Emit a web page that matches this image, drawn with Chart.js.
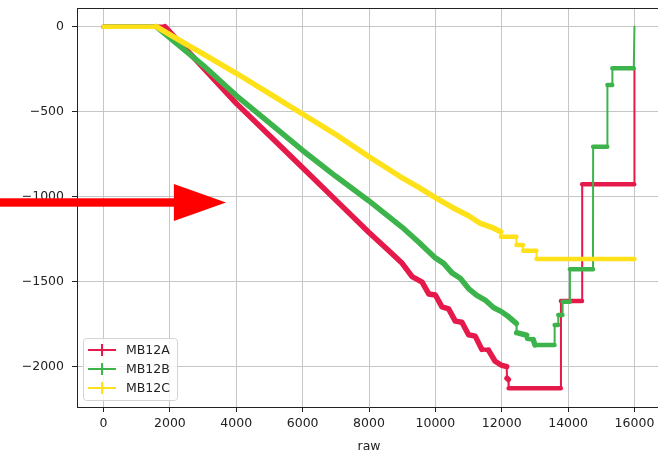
<!DOCTYPE html>
<html>
<head>
<meta charset="utf-8">
<script src="https://cdn.jsdelivr.net/npm/chart.js@4.4.1/dist/chart.umd.min.js"></script>
<style>
  html, body { margin: 0; padding: 0; background: #fff; overflow: hidden; }
  #wrap { width: 664px; height: 452px; }
</style>
</head>
<body>
<div id="wrap"><canvas id="chart"></canvas></div>
<script>
const X_TICKS = [0, 2000, 4000, 6000, 8000, 10000, 12000, 14000, 16000];
const Y_TICKS = [0, -500, -1000, -1500, -2000];

const MB12A_X = [0, 1000, 1850, 2500, 3000, 4000, 5000, 6000, 7000, 8000, 8500, 9000, 9300, 9600, 9800, 10000,
  10200, 10400, 10600, 10800, 11000, 11200, 11400, 11600, 11800, 11980, 12150, 12160, 12200, 12210,
  13780, 13785, 14420, 14425, 15990, 16000];
const MB12A_Y = [0, 0, 0, -137, -240, -451, -640, -830, -1020, -1210, -1300, -1392, -1470, -1502, -1572, -1578,
  -1648, -1660, -1732, -1738, -1812, -1820, -1898, -1902, -1968, -1990, -2000, -2068, -2075, -2127,
  -2127, -1614, -1614, -927, -927, -245];

const MB12B_X = [0, 1000, 1590, 2500, 3000, 4000, 5000, 6000, 7000, 8000, 9000, 9500, 10000, 10250, 10500,
  10750, 11000, 11250, 11500, 11750, 11990, 12200, 12440, 12450, 12750, 12760, 12950, 13000, 13590, 13595,
  13700, 13705, 13830, 13835, 14050, 14055, 14750, 14755, 15180, 15185, 15330, 15335, 15980, 16000];
const MB12B_Y = [0, 0, 0, -147, -227, -405, -565, -728, -880, -1025, -1180, -1268, -1360, -1392, -1448,
  -1480, -1540, -1580, -1608, -1652, -1676, -1705, -1745, -1800, -1815, -1835, -1840, -1872, -1872, -1755,
  -1755, -1696, -1696, -1618, -1618, -1427, -1427, -706, -706, -343, -343, -245, -245, 0];

const MB12C_X = [0, 1000, 1590, 2500, 3000, 4000, 5000, 5960, 7000, 8000, 8924, 9500, 10000, 10500, 11000,
  11336, 11700, 11969, 11975, 12440, 12445, 12640, 12645, 13045, 13050, 16000];
const MB12C_Y = [0, 0, 0, -104, -160, -274, -394, -509, -634, -765, -880, -945, -1005, -1062, -1112,
  -1155, -1180, -1206, -1235, -1235, -1284, -1284, -1318, -1318, -1366, -1366];

const COLORS = { MB12A: "#e6194b", MB12B: "#3cb44b", MB12C: "#ffe119" };
const FONT = { family: "'DejaVu Sans', sans-serif", size: 12.5 };
const INK = "#222";

// red annotation arrow, in data units
const ARROW = { tip: 3690, base: 2120, y: -1034 };

function toPoints(xs, ys) {
  return xs.map((x, i) => ({ x, y: ys[i] }));
}

function segWidth(ctx) {
  const dx = Math.abs(ctx.p1.x - ctx.p0.x);
  const dy = Math.abs(ctx.p1.y - ctx.p0.y);
  if (dx < 1) return 2;
  if (dy < 1) return 4.5;
  return 5.5;
}

function minusLabel(v) {
  return v < 0 ? "\u2212" + Math.abs(v) : String(v);
}

const datasets = [
  { label: "MB12A", data: toPoints(MB12A_X, MB12A_Y), order: 3 },
  { label: "MB12B", data: toPoints(MB12B_X, MB12B_Y), order: 2 },
  { label: "MB12C", data: toPoints(MB12C_X, MB12C_Y), order: 1 },
].map((ds) => ({
  ...ds,
  borderColor: COLORS[ds.label],
  backgroundColor: COLORS[ds.label],
  borderWidth: 5,
  borderCapStyle: "round",
  borderJoinStyle: "round",
  pointRadius: 0,
  tension: 0,
  parsing: false,
  segment: { borderWidth: segWidth },
}));

const overlay = {
  id: "overlay",
  beforeDatasetsDraw(chart) {
    const { ctx, chartArea } = chart;
    ctx.save();
    ctx.strokeStyle = INK;
    ctx.lineWidth = 1;
    ctx.beginPath();
    ctx.moveTo(chartArea.left, chartArea.top + 0.5);
    ctx.lineTo(chartArea.right, chartArea.top + 0.5);
    ctx.stroke();
    ctx.restore();
  },
  afterDraw(chart) {
    const { ctx, chartArea, scales } = chart;
    // legend, lower left
    const bx = chartArea.left + 6, by = chartArea.bottom - 69, bw = 94, bh = 62;
    ctx.save();
    ctx.fillStyle = "rgba(255,255,255,0.8)";
    ctx.strokeStyle = "#d4d4d4";
    ctx.lineWidth = 1;
    ctx.beginPath();
    ctx.roundRect(bx + 0.5, by + 0.5, bw, bh, 3);
    ctx.fill();
    ctx.stroke();
    ctx.font = `${FONT.size}px ${FONT.family}`;
    ctx.textBaseline = "middle";
    ctx.textAlign = "left";
    ["MB12A", "MB12B", "MB12C"].forEach((name, i) => {
      const y = by + 12 + i * 19;
      ctx.strokeStyle = COLORS[name];
      ctx.lineWidth = 2;
      ctx.beginPath();
      ctx.moveTo(bx + 5, y);
      ctx.lineTo(bx + 33, y);
      ctx.moveTo(bx + 19, y - 6);
      ctx.lineTo(bx + 19, y + 6);
      ctx.stroke();
      ctx.fillStyle = INK;
      ctx.fillText(name, bx + 43, y + 0.5);
    });

    // arrow
    const x = scales.x, yS = scales.y;
    const tip = x.getPixelForValue(ARROW.tip);
    const base = x.getPixelForValue(ARROW.base);
    const ay = yS.getPixelForValue(ARROW.y);
    ctx.fillStyle = "#ff0000";
    ctx.fillRect(0, ay - 4.2, base + 1, 8.4);
    ctx.beginPath();
    ctx.moveTo(base, ay - 18.5);
    ctx.lineTo(tip, ay);
    ctx.lineTo(base, ay + 18.5);
    ctx.closePath();
    ctx.fill();
    ctx.restore();
  },
};

new Chart(document.getElementById("chart"), {
  type: "line",
  data: { datasets },
  plugins: [overlay],
  options: {
    responsive: true,
    maintainAspectRatio: false,
    animation: false,
    devicePixelRatio: 1,
    layout: { padding: { top: 8, right: 3, left: 0, bottom: 0 } },
    plugins: { legend: { display: false }, tooltip: { enabled: false } },
    scales: {
      x: {
        type: "linear",
        min: -800,
        max: 16800,
        afterBuildTicks: (s) => { s.ticks = X_TICKS.map((v) => ({ value: v })); },
        afterFit: (s) => { s.height = 45; s.paddingLeft = 0; s.paddingRight = 0; },
        grid: { color: "#c6c6c6", lineWidth: 1, tickColor: INK, tickLength: 5, tickWidth: 1 },
        border: { color: INK, width: 1 },
        ticks: { color: INK, font: FONT, padding: 4, maxRotation: 0, callback: (v) => String(v) },
        title: { display: true, text: "raw", color: INK, font: FONT, padding: { top: 0, bottom: -2 } },
      },
      y: {
        type: "linear",
        min: -2237,
        max: 110,
        afterBuildTicks: (s) => { s.ticks = Y_TICKS.map((v) => ({ value: v })); },
        afterFit: (s) => { s.width = 77; s.paddingTop = 0; s.paddingBottom = 0; },
        grid: { color: "#c6c6c6", lineWidth: 1, tickColor: INK, tickLength: 5, tickWidth: 1 },
        border: { color: INK, width: 1 },
        ticks: { color: INK, font: FONT, padding: 8, callback: minusLabel },
      },
    },
  },
});
</script>
</body>
</html>
